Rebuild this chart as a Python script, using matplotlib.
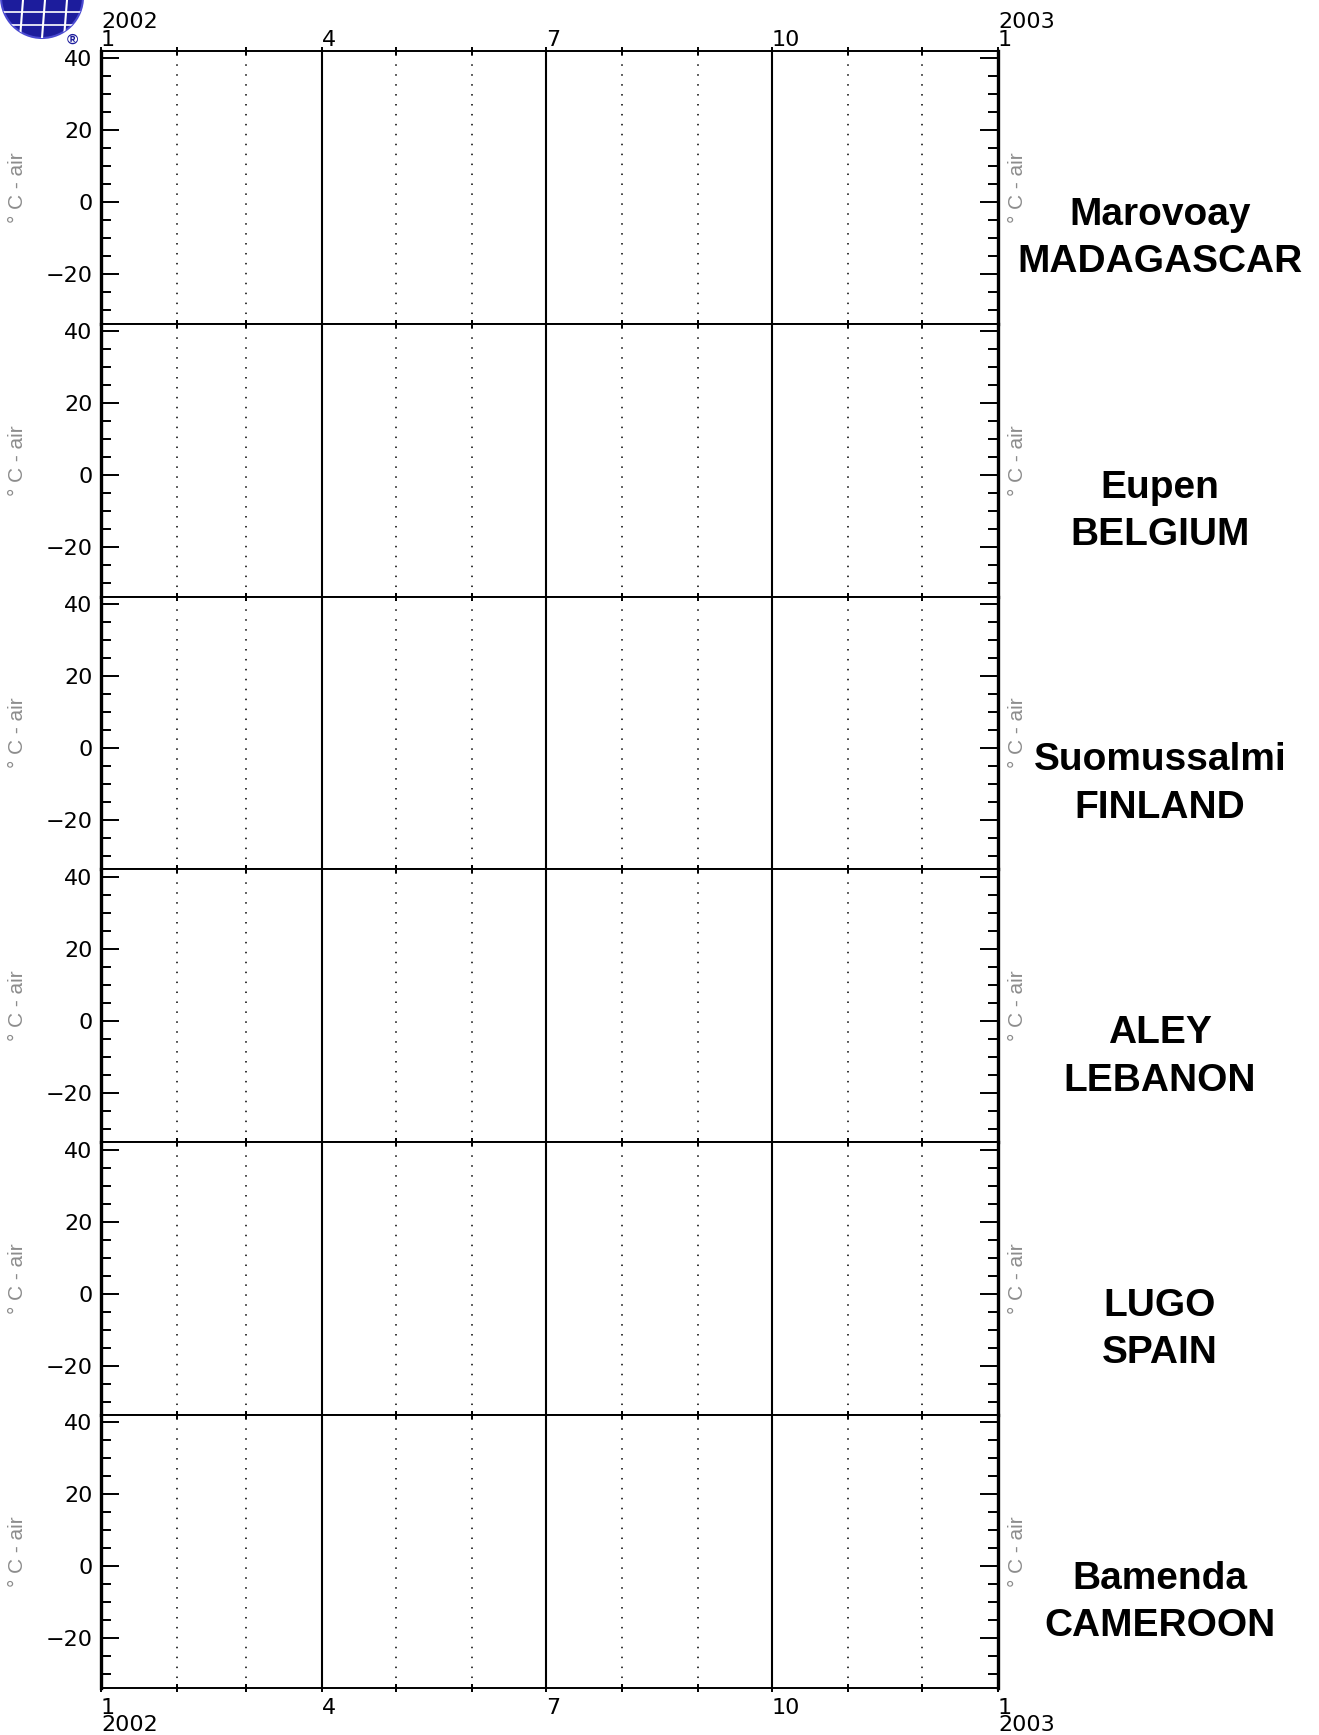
import datetime as dt
import matplotlib
matplotlib.use('Agg')
import matplotlib.pyplot as plt
import matplotlib.dates as mdates
from matplotlib.patches import Circle

# stations shown on the right, one panel each
stations = ['Marovoay', 'Eupen', 'Suomussalmi', 'ALEY', 'LUGO', 'Bamenda']
countries = ['MADAGASCAR', 'BELGIUM', 'FINLAND', 'LEBANON', 'SPAIN', 'CAMEROON']

# time axis: first day of every month of 2002, plus 1 Jan 2003
month_starts = [dt.date(2002, m, 1) for m in range(1, 13)] + [dt.date(2003, 1, 1)]
quarter_starts = [dt.date(2002, 1, 1), dt.date(2002, 4, 1), dt.date(2002, 7, 1),
                  dt.date(2002, 10, 1), dt.date(2003, 1, 1)]
top_labels = ['2002\n1', '4', '7', '10', '2003\n1']
bottom_labels = ['1\n2002', '4', '7', '10', '1\n2003']

y_major = [-20, 0, 20, 40]
y_minor = [-30, -25, -15, -10, -5, 5, 10, 15, 25, 30, 35]
y_range = (-33.75, 42)
y_title = '\u00b0 C - air'

plt.rcParams['font.family'] = ['Liberation Sans', 'DejaVu Sans']
tick_font = 'DejaVu Sans'

W, H = 1319, 1735
fig = plt.figure(figsize=(W / 100, H / 100), dpi=100)

left_px, right_px, top_px, bottom_px = 101, 998, 51, 1688
n = len(stations)
ph = (bottom_px - top_px) / n
aw = right_px - left_px

months = mdates.date2num(month_starts)
quarters = mdates.date2num(quarter_starts)

for i, (st, co) in enumerate(zip(stations, countries)):
    y0 = top_px + i * ph
    ax = fig.add_axes([left_px / W, 1 - (y0 + ph) / H, aw / W, ph / H])
    ax.set_xlim(quarters[0], quarters[-1])
    ax.set_ylim(*y_range)

    # month grid: solid at quarters, dotted elsewhere
    for m in months[1:-1]:
        if m in quarters:
            ax.axvline(m, color='black', lw=1.5)
        else:
            ax.axvline(m, color='black', lw=1.1, ls=(0, (1, 5.5)))

    for side in ['left', 'right']:
        ax.spines[side].set_linewidth(2.4)
    for side in ['top', 'bottom']:
        ax.spines[side].set_linewidth(1.4)

    ax.set_yticks(y_major)
    ax.set_yticks(y_minor, minor=True)
    ax.tick_params(axis='y', which='major', direction='in', length=13, width=1.4,
                   left=True, right=True, labelsize=16, pad=6)
    ax.tick_params(axis='y', which='minor', direction='in', length=7, width=1.4,
                   left=True, right=True)
    for lbl in ax.get_yticklabels():
        lbl.set_family(tick_font)

    ax.set_xticks(quarters)
    ax.set_xticks(months, minor=True)
    ax.tick_params(axis='x', which='both', direction='inout', length=6, width=1.4,
                   top=True, bottom=True, labelsize=16, pad=(-2 if i == 0 else 4),
                   labeltop=(i == 0), labelbottom=(i == n - 1))
    if i == 0:
        ax.set_xticklabels(top_labels)
        for t in ax.xaxis.get_major_ticks():
            t.label2.set_horizontalalignment('left')
            t.label2.set_linespacing(0.85)
            t.label2.set_family(tick_font)
    elif i == n - 1:
        ax.set_xticklabels(bottom_labels)
        for t in ax.xaxis.get_major_ticks():
            t.label1.set_horizontalalignment('left')
            t.label1.set_linespacing(0.82)
            t.label1.set_family(tick_font)
    else:
        ax.set_xticklabels([])

    ax.text((18 - left_px) / aw, 0.5, y_title, rotation=90,
            transform=ax.transAxes, ha='center', va='center', fontsize=15,
            color='#8c8c8c')
    ax.text((1017 - left_px) / aw, 0.5, y_title, rotation=90,
            transform=ax.transAxes, ha='center', va='center', fontsize=15,
            color='#8c8c8c')

    ax.text((1160 - left_px) / aw, 0.5 - 51 / ph, st + '\n' + co,
            transform=ax.transAxes, ha='center', va='center', fontsize=28,
            fontweight='bold', linespacing=1.4)

# logo in the top left corner
globe = Circle((0.42, H / 100 + 0.03), 0.41, transform=fig.dpi_scale_trans,
               facecolor='#1c1c9c', edgecolor='#4a4ad0', lw=1.5)
fig.patches.append(globe)
for dx in [0.2, 0.42, 0.64]:
    fig.lines.append(plt.Line2D([dx, dx + 0.03], [H / 100 - 0.38, H / 100],
                                transform=fig.dpi_scale_trans, color='white', lw=1.5,
                                clip_path=globe))
for dy in [0.12, 0.25]:
    fig.lines.append(plt.Line2D([0, 0.85], [H / 100 - dy, H / 100 - dy],
                                transform=fig.dpi_scale_trans, color='white', lw=1.2,
                                clip_path=globe))
fig.text(0.72, H / 100 - 0.40, '\u00ae', transform=fig.dpi_scale_trans,
         ha='center', va='center', fontsize=11, color='#1c1c9c', fontweight='bold')

fig.savefig('out.png', dpi=100)
